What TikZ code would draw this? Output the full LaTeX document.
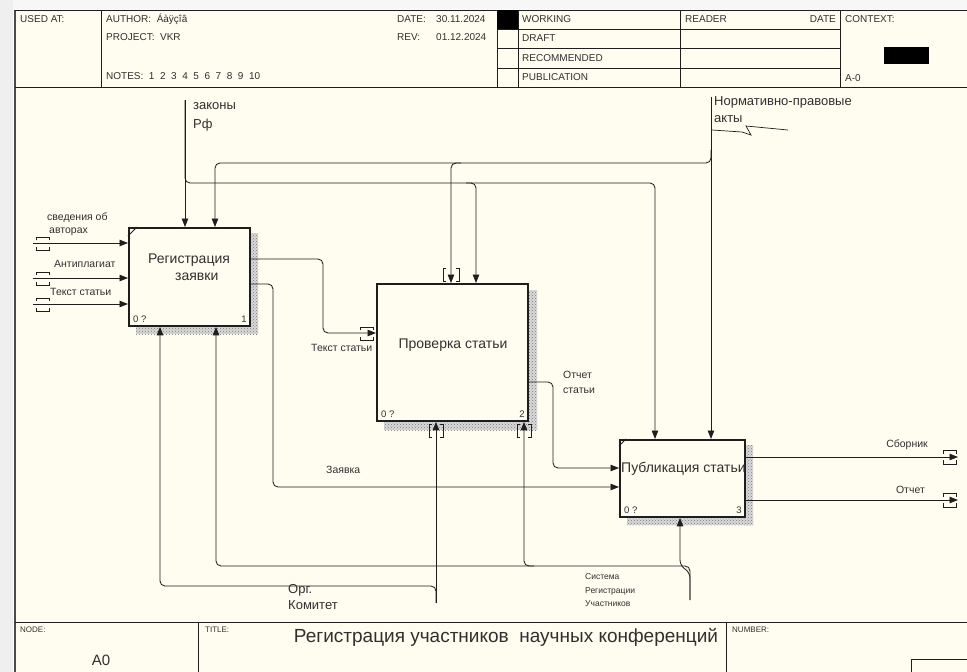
\documentclass[tikz,border=0pt]{standalone}
\usepackage{fontspec}
\setmainfont{Liberation Sans}
\usetikzlibrary{arrows.meta,calc,patterns}
\definecolor{paper}{HTML}{FFFCF0}
\definecolor{strip}{HTML}{EFEFEF}
\definecolor{ink}{HTML}{1E1E1E}
\definecolor{txt}{HTML}{303030}
\begin{document}
\begin{tikzpicture}[x=1pt,y=-1pt,
  box/.style={draw=ink, line width=1.9pt, fill=paper, inner sep=0pt, anchor=north west},
  boxtxt/.style={text=txt, font=\fontsize{14}{17}\selectfont, align=center, inner sep=0pt},
  conn/.style={draw=ink, line width=0.85pt, rounded corners=5pt},
  arr/.style={conn, -{Triangle[length=8.5pt,width=6.5pt]}},
  brk/.style={draw=ink, line width=0.7pt},
  shadbg/.style={fill=gray!30},
  shad/.style={pattern=crosshatch dots, pattern color=gray!95!black},
  lbl/.style={text=txt, font=\fontsize{10.5}{14}\selectfont, inner sep=0pt, anchor=west},
  big/.style={text=txt, font=\fontsize{13}{16}\selectfont, inner sep=0pt, anchor=west},
  hdr/.style={text=txt, font=\fontsize{10}{12}\selectfont, inner sep=0pt, anchor=west},
  tiny/.style={text=txt, font=\fontsize{8}{10}\selectfont, inner sep=0pt, anchor=west},
  num/.style={text=txt, font=\fontsize{9.5}{11}\selectfont, inner sep=0pt}
]
\useasboundingbox (0,0) rectangle (967,672);
% background
\fill[paper] (0,0) rectangle (967,672);
\fill[strip] (0,0) rectangle (13,672);
\fill[white!97!black] (13,0) rectangle (967,9);
\draw[ink!80, line width=2pt] (14.5,10) -- (14.5,672);
% header
\draw[ink, line width=0.8pt] (14.5,10) -- (967,10);
\draw[ink, line width=0.8pt] (14.5,87) -- (967,87);
\foreach \xx in {101,497,518,680,840} \draw[ink, line width=0.8pt] (\xx,10) -- (\xx,87);
\foreach \yy in {29,48,68} \draw[ink, line width=0.8pt] (497,\yy) -- (840,\yy);
\fill[black] (497,10) rectangle (518,29);
\fill[black] (884,47) rectangle (929,64);
\node[hdr] at (20,19) {USED AT:};
\node[hdr] at (106,19) {AUTHOR:\ \ Áàÿçîâ};
\node[hdr] at (106,37) {PROJECT:\ \ VKR};
\node[hdr] at (106,76) {NOTES:\ \ 1\ \ 2\ \ 3\ \ 4\ \ 5\ \ 6\ \ 7\ \ 8\ \ 9\ \ 10};
\node[hdr] at (397,19) {DATE:};
\node[hdr] at (436,19) {30.11.2024};
\node[hdr] at (397,37) {REV:};
\node[hdr] at (436,37) {01.12.2024};
\node[hdr] at (522,19) {WORKING};
\node[hdr] at (522,38) {DRAFT};
\node[hdr] at (522,58) {RECOMMENDED};
\node[hdr] at (522,77) {PUBLICATION};
\node[hdr] at (685,19) {READER};
\node[hdr, anchor=east] at (836,19) {DATE};
\node[hdr] at (845,19) {CONTEXT:};
\node[hdr] at (845,78) {A-0};
% footer
\draw[ink, line width=0.8pt] (14.5,622) -- (967,622);
\draw[ink, line width=0.8pt] (198,622) -- (198,672);
\draw[ink, line width=0.8pt] (726,622) -- (726,672);
\draw[ink, line width=0.8pt] (911,672) -- (911,659) -- (967,659);
\node[tiny] at (20,630) {NODE:};
\node[tiny] at (205,630) {TITLE:};
\node[tiny] at (732,630) {NUMBER:};
\node[text=txt, font=\fontsize{15}{18}\selectfont, inner sep=0pt] at (101,660) {A0};
\node[text=txt, font=\fontsize{19}{22}\selectfont, inner sep=0pt] at (506,637) {Регистрация участников\ \ научных конференций};
% shadows
\foreach \a/\b/\c/\d in {249/233/258/334, 136/325/258/334, 527/290/537/430, 384/420/537/430, 744/445/753/525, 627/516/753/525} {
  \fill[shadbg] (\a,\b) rectangle (\c,\d);
  \fill[shad] (\a,\b) rectangle (\c,\d);
}
% boxes
\node[box, minimum width=121pt, minimum height=98pt] (b1) at (128,227) {};
\node[box, minimum width=151pt, minimum height=137pt] (b2) at (376,283) {};
\node[box, minimum width=125pt, minimum height=77pt] (b3) at (619,439) {};
\draw[ink, line width=0.8pt] ($(b1.north west)+(0,9)$) -- ($(b1.north west)+(9,0)$);
\draw[ink, line width=0.8pt] ($(b3.north west)+(0,7)$) -- ($(b3.north west)+(7,0)$);
\node[boxtxt] at (189,267) {Регистрация\\\ \ \ \ заявки};
\node[boxtxt] at (453,345) {Проверка статьи};
\node[boxtxt, anchor=west] at (621,469) {Публикация статьи};
\node[num, anchor=west] at ($(b1.south west)+(5,-8)$) {0 ?};
\node[num, anchor=east] at ($(b1.south east)+(-4,-8)$) {1};
\node[num, anchor=west] at ($(b2.south west)+(5,-8)$) {0 ?};
\node[num, anchor=east] at ($(b2.south east)+(-4,-8)$) {2};
\node[num, anchor=west] at ($(b3.south west)+(5,-8)$) {0 ?};
\node[num, anchor=east] at ($(b3.south east)+(-4,-8)$) {3};
% controls
\coordinate (lawsTop) at (185,100);
\draw[arr] (lawsTop) -- ($(b1.north west)+(57,0)$);
\draw[arr] (lawsTop) -- (185,183) -- (655,183) -- ($(b3.north west)+(36,0)$);
\draw[arr] (466,183) -- (476,183) -- ($(b2.north west)+(100,0)$);
\node[big] at (193,106) {законы};
\node[big] at (193,125) {Рф};
\coordinate (normTop) at (711,97);
\draw[arr] (normTop) -- ($(b3.north west)+(92,0)$);
\draw[arr] (711,150) -- (711,163) -- (215,163) -- ($(b1.north west)+(87,0)$);
\draw[arr] (461,163) -- (451,163) -- ($(b2.north west)+(75,0)$);
\node[big] at (714,102) {Нормативно-правовые};
\node[big] at (714,119) {акты};
\draw[ink, line width=0.7pt] (712,130) -- (742,132) -- (751,135) -- (746,126) -- (788,130);
\draw[brk] (446,268) -- (443,268) -- (443,281) -- (446,281);
\draw[brk] (456,268) -- (459,268) -- (459,281) -- (456,281);
% inputs to b1
\coordinate (in1) at (33,243);
\coordinate (in2) at (33,278);
\coordinate (in3) at (33,304);
\draw[arr] (in1) -- (in1 -| b1.west);
\draw[arr] (in2) -- (in2 -| b1.west);
\draw[arr] (in3) -- (in3 -| b1.west);
\foreach \yy in {243,278,304} {
  \draw[brk] (36,\yy-3) -- (36,\yy-6) -- (49,\yy-6) -- (49,\yy-3);
  \draw[brk] (36,\yy+4) -- (36,\yy+7) -- (49,\yy+7) -- (49,\yy+4);
}
\node[lbl] at (47,218) {сведения об};
\node[lbl] at (49,232) {авторах};
\node[lbl] at (54,264) {Антиплагиат};
\node[lbl] at (50,292) {Текст статьи};
% b1 -> b2
\draw[arr] ($(b1.north east)+(0,32)$) -- (323,259) -- (323,333) -- ($(b2.north west)+(0,50)$);
\draw[brk] (360,330) -- (360,327) -- (373,327) -- (373,330);
\draw[brk] (360,337) -- (360,340) -- (373,340) -- (373,337);
\node[lbl] at (311,348) {Текст статьи};
% b1 -> b3
\draw[arr] ($(b1.north east)+(0,57)$) -- (273,284) -- (273,487) -- ($(b3.north west)+(0,48)$);
\node[lbl] at (326,470) {Заявка};
% b2 -> b3
\draw[arr] ($(b2.north east)+(0,99)$) -- (553,382) -- (553,468) -- ($(b3.north west)+(0,29)$);
\node[lbl] at (563,375) {Отчет};
\node[lbl] at (563,391) {статьи};
% b3 outputs
\coordinate (o1) at (958,457);
\coordinate (o2) at (958,500);
\draw[arr] ($(b3.north east)+(0,18)$) -- (o1);
\draw[arr] ($(b3.north east)+(0,61)$) -- (o2);
\foreach \yy in {457,500} {
  \draw[brk] (943,\yy-3) -- (943,\yy-7) -- (956,\yy-7) -- (956,\yy-3);
  \draw[brk] (943,\yy+3) -- (943,\yy+7) -- (956,\yy+7) -- (956,\yy+3);
}
\node[lbl, anchor=east] at (928,445) {Сборник};
\node[lbl, anchor=east] at (925,490) {Отчет};
% mechanisms
\coordinate (orgBot) at (436,603);
\draw[arr] (orgBot) -- ($(b2.south west)+(60,0)$);
\draw[arr] (orgBot) -- (436,586) -- (160,586) -- ($(b1.south west)+(32,0)$);
\node[big] at (288,590) {Орг.};
\node[big] at (288,605) {Комитет};
\coordinate (sysBot) at (690,600);
\draw[arr] (sysBot) -- (690,573) -- (680,565) -- ($(b3.south west)+(61,0)$);
\draw[arr] (sysBot) -- (690,566) -- (216,566) -- ($(b1.south west)+(88,0)$);
\draw[arr] (534,566) -- (524,566) -- ($(b2.south west)+(148,0)$);
\draw[brk] (432,424) -- (429,424) -- (429,437) -- (432,437);
\draw[brk] (440,424) -- (443,424) -- (443,437) -- (440,437);
\draw[brk] (520,424) -- (517,424) -- (517,437) -- (520,437);
\draw[brk] (528,424) -- (531,424) -- (531,437) -- (528,437);
\node[text=txt, font=\fontsize{8.5}{10}\selectfont, inner sep=0pt, anchor=west] at (585,577) {Система};
\node[text=txt, font=\fontsize{8.5}{10}\selectfont, inner sep=0pt, anchor=west] at (585,591) {Регистрации};
\node[text=txt, font=\fontsize{8.5}{10}\selectfont, inner sep=0pt, anchor=west] at (585,604) {Участников};
\end{tikzpicture}
\end{document}
